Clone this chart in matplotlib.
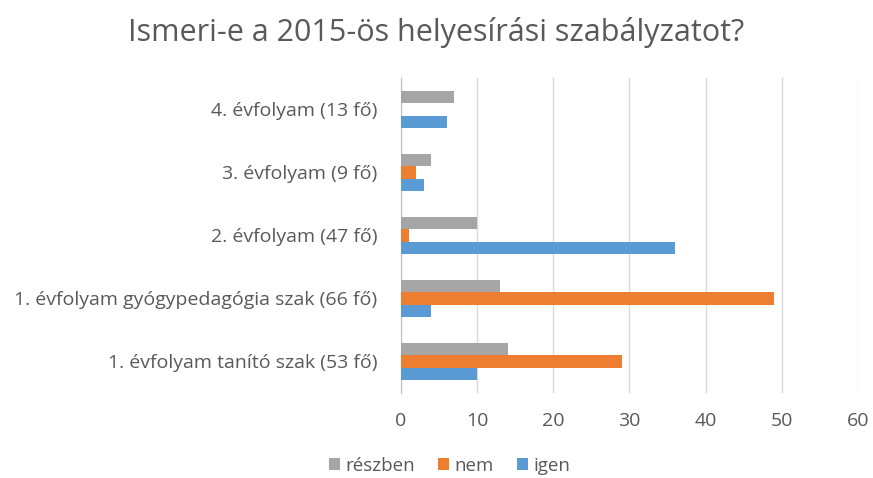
import numpy as np
import matplotlib.pyplot as plt

plt.rcParams['font.family'] = ['Open Sans', 'DejaVu Sans']

categories = ['1. évfolyam tanító szak (53 fő)',
              '1. évfolyam gyógypedagógia szak (66 fő)',
              '2. évfolyam (47 fő)',
              '3. évfolyam (9 fő)',
              '4. évfolyam (13 fő)']
igen = [10, 4, 36, 3, 6]
nem = [29, 49, 1, 2, 0]
reszben = [14, 13, 10, 4, 7]

text_col = '#595959'
fig = plt.figure(figsize=(8.73, 4.78), dpi=100)
ax = fig.add_axes([0.4593, 0.178, 0.5235, 0.659])

y = np.arange(len(categories))
h = 0.2
ax.barh(y - h, igen, height=h, color='#5B9BD5', label='igen', zorder=3)
ax.barh(y, nem, height=h, color='#ED7D31', label='nem', zorder=3)
ax.barh(y + h, reszben, height=h, color='#A5A5A5', label='részben', zorder=3)

ax.set_xlim(0, 60)
ax.set_ylim(-0.5, 4.5)
ax.set_xticks(range(0, 61, 10))
ax.set_yticks(y)
ax.set_yticklabels(categories)
ax.grid(axis='x', color='#D9D9D9', linewidth=1, zorder=0)
for s in ['top', 'right', 'bottom']:
    ax.spines[s].set_visible(False)
ax.spines['left'].set_color('#BFBFBF')
ax.tick_params(axis='both', length=0, labelsize=14, colors=text_col)
ax.tick_params(axis='y', pad=17)
ax.tick_params(axis='x', pad=14)

fig.suptitle('Ismeri-e a 2015-ös helyesírási szabályzatot?', y=0.965,
             fontsize=22, color=text_col)

handles, labels = ax.get_legend_handles_labels()
fig.legend(handles[::-1], labels[::-1], loc='center', bbox_to_anchor=(0.515, 0.025),
           ncol=3, frameon=False, fontsize=13.5, labelcolor=text_col,
           handlelength=0.6, handleheight=0.6, handletextpad=0.3, columnspacing=1.2)

fig.savefig('out.png', dpi=100)
